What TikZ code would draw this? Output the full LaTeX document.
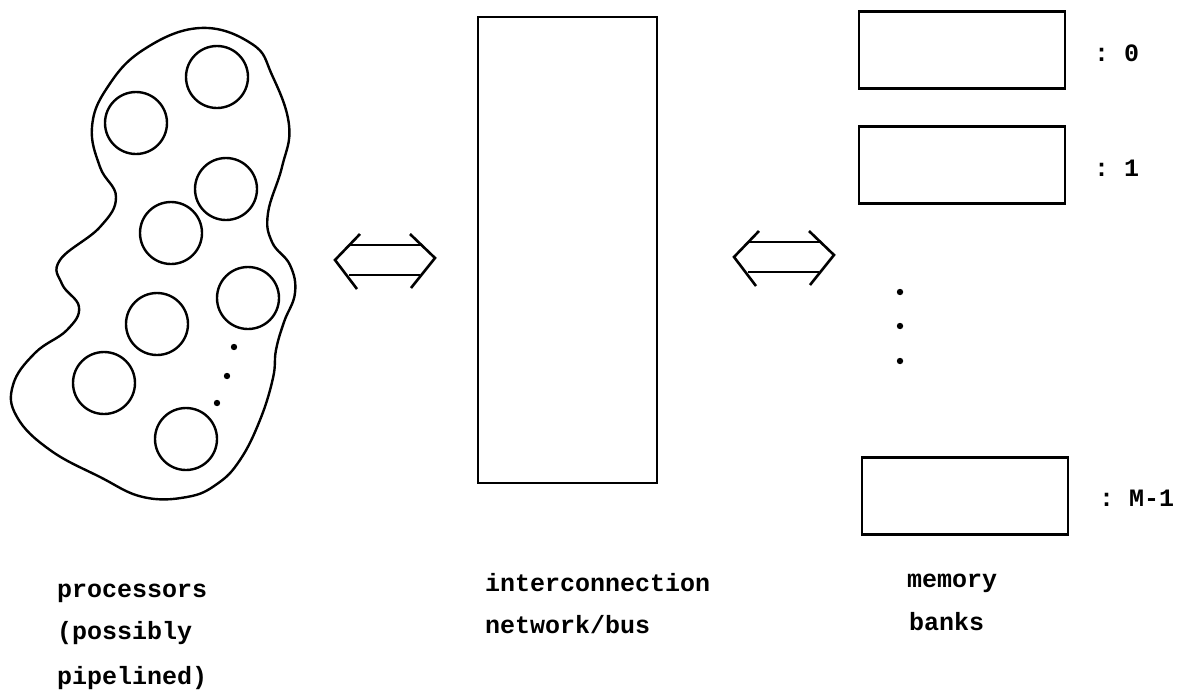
\documentclass[tikz,border=0pt]{standalone}
\usepackage{fontspec}
\setmonofont{Liberation Mono}
\tikzset{
  outl/.style={line width=2.6pt},
  cpu/.style={circle, draw, line width=2.4pt, minimum size=62pt, inner sep=0pt},
  bank/.style={rectangle, draw, line width=2.6pt, minimum width=206pt, minimum height=77pt, inner sep=0pt},
  lbl/.style={anchor=base west, inner sep=0pt, font=\ttfamily\bfseries\fontsize{25}{30}\selectfont},
  blob/.style={line width=2.4pt}
}
\begin{document}
\begin{tikzpicture}[x=1pt,y=-1pt]
        \useasboundingbox (0,0) rectangle (1181,691);
        % processors
        \draw[blob] plot[smooth cycle, tension=0.7] coordinates {(200,28) (252,44) (272,75)
        (289,125) (282,167) (268,213) (272,242) (290,265) (295,293) (284,322) (276,350) (273,378)
        (260,420) (240,460) (217,484) (187,497) (143,497) (100,477) (50,450) (17,417) (13,385)
        (35,353) (67,330) (79,307) (62,284) (60,260) (100,227) (116,197) (100,167) (92,127)
        (107,88) (143,50)};
        \foreach \n/\p in {1/{(217,77)}, 2/{(136,123)}, 3/{(226,189)}, 4/{(171,233)},
                           5/{(248,298)}, 6/{(157,324)}, 7/{(104,383)}, 8/{(186,439)}}
            \node[cpu] (p\n) at \p {};
        \fill (234,347) circle[radius=3.2pt];
        \fill (227,376) circle[radius=3.2pt];
        \fill (217,403) circle[radius=3.2pt];
        % network
        \node[draw, outl, minimum width=179pt, minimum height=466pt, inner sep=0pt] (net) at (567.5,250) {};
        % memory banks
        \node[bank] (m0) at (962,50) {};
        \node[bank] (m1) at (962,165) {};
        \node[bank] (mM) at (965,496) {};
        \node[lbl] (l0) at (1094,61) {:~0};
        \node[lbl] (l1) at (1094,176) {:~1};
        \node[lbl] (lM) at (1099,506) {:~M-1};
        \fill (900,292) circle[radius=3.2pt];
        \fill (900,326) circle[radius=3.2pt];
        \fill (900,361) circle[radius=3.2pt];
        % double arrows
        \coordinate (la) at (385,260);
        \coordinate (ra) at (784,257);
        \foreach \c in {la,ra} {
            \draw[outl] ([shift={(-25,-26)}]\c) -- ([shift={(-50,0)}]\c) -- ([shift={(-28,29)}]\c);
            \draw[outl] ([shift={(25,-26)}]\c) -- ([shift={(50,-2)}]\c) -- ([shift={(26,28)}]\c);
            \draw[outl] ([shift={(-36,-15)}]\c) -- ([shift={(37,-15)}]\c);
            \draw[outl] ([shift={(-36,15)}]\c) -- ([shift={(35,15)}]\c);
        }
        % labels
        \node[lbl] (proc) at (57,597) {processors};
        \node[lbl] (poss) at (57,639) {(possibly};
        \node[lbl] (pipe) at (57,684) {pipelined)};
        \node[lbl] (icn) at (485,591) {interconnection};
        \node[lbl] (nb) at (485,633) {network/bus};
        \node[lbl] (mem) at (907,587) {memory};
        \node[lbl] (bk) at (909,630) {banks};
\end{tikzpicture}
\end{document}
